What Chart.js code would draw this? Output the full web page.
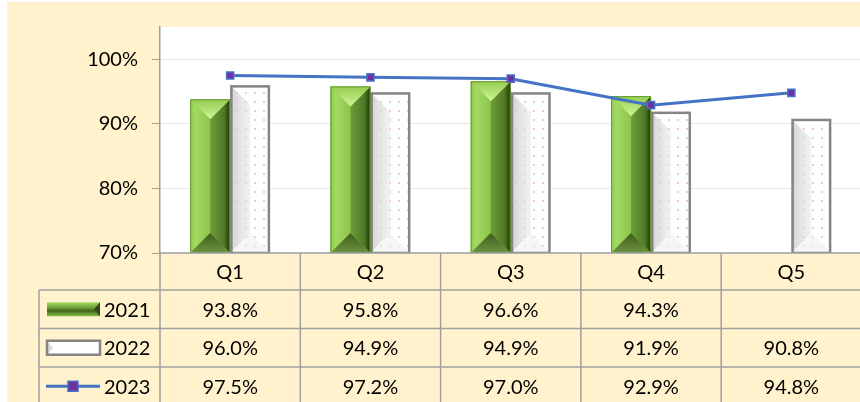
<!DOCTYPE html>
<html>
<head>
<meta charset="utf-8">
<script src="https://cdn.jsdelivr.net/npm/chart.js@4.4.0/dist/chart.umd.min.js"></script>
<style>
  html, body { margin: 0; padding: 0; background: #fff; overflow: hidden; }
  canvas { display: block; }
</style>
</head>
<body>
<canvas id="qChart" width="868" height="402"></canvas>
<script>
const categories = ['Q1', 'Q2', 'Q3', 'Q4', 'Q5'];
const seriesNames = ['2021', '2022', '2023'];
const values2021 = [93.8, 95.8, 96.6, 94.3, null];
const values2022 = [96.0, 94.9, 94.9, 91.9, 90.8];
const values2023 = [97.5, 97.2, 97.0, 92.9, 94.8];
const yTicks = [70, 80, 90, 100];

const FONT = 'Lato, "Open Sans", sans-serif';
const CREAM = '#FFF2CC';
const GRAY = '#A0A0A0';

// dotted pink fill for the 2022 bars
function dotPattern() {
  const c = document.createElement('canvas');
  c.width = 9; c.height = 9;
  const g = c.getContext('2d');
  g.fillStyle = '#ffffff';
  g.fillRect(0, 0, 9, 9);
  g.fillStyle = '#F0C4EE';
  g.fillRect(2, 2, 2, 2);
  return g.createPattern(c, 'repeat');
}
const dots = dotPattern();

function facet(c, pts, fill) {
  c.beginPath();
  c.moveTo(pts[0][0], pts[0][1]);
  for (let k = 1; k < pts.length; k++) c.lineTo(pts[k][0], pts[k][1]);
  c.closePath();
  c.fillStyle = fill;
  c.fill();
}

// bevel shading painted over the library's bar elements
const bevelPlugin = {
  id: 'bevel',
  afterDatasetDraw(chart, args) {
    const c = chart.ctx, a = chart.chartArea;
    const meta = args.meta;
    if (meta.type !== 'bar') return;
    const vals = chart.data.datasets[args.index].data;
    meta.data.forEach((el, i) => {
      if (vals[i] === null || vals[i] === undefined) return;
      const w = el.width, l = el.x - w / 2, r = el.x + w / 2, x = el.x, t = el.y;
      const b = Math.min(el.base, a.bottom);
      const d = w * 0.5;
      c.save();
      c.beginPath();
      c.rect(a.left, a.top, a.right - a.left, a.bottom - a.top);
      c.clip();
      if (args.index === 1) {
        let g = c.createLinearGradient(l, 0, x, 0);
        g.addColorStop(0, '#8CC84C'); g.addColorStop(0.25, '#A2DA62'); g.addColorStop(1, '#8CC44C');
        facet(c, [[l, t], [x, t + d], [x, b - d], [l, b]], g);
        g = c.createLinearGradient(x, 0, r, 0);
        g.addColorStop(0, '#6E9E3A'); g.addColorStop(0.7, '#4E7826'); g.addColorStop(1, '#1E300A');
        facet(c, [[r, t], [x, t + d], [x, b - d], [r, b]], g);
        g = c.createLinearGradient(0, t, 0, t + d);
        g.addColorStop(0, '#94CC4E'); g.addColorStop(1, '#CFF59A');
        facet(c, [[l, t], [r, t], [x, t + d]], g);
        g = c.createLinearGradient(0, b - d, 0, b);
        g.addColorStop(0, '#3F5C1C'); g.addColorStop(1, '#6E9440');
        facet(c, [[l, b], [r, b], [x, b - d]], g);
        c.strokeStyle = '#6A9A36'; c.lineWidth = 1;
        c.strokeRect(l + 0.5, t + 0.5, w - 1, b - t - 1);
      } else {
        c.fillStyle = dots;
        c.fillRect(l, t, w, b - t);
        const g = c.createLinearGradient(l, 0, x, 0);
        g.addColorStop(0, 'rgba(200,200,200,0.8)'); g.addColorStop(1, 'rgba(232,232,232,0.55)');
        facet(c, [[l, t], [x, t + d], [x, b - d], [l, b]], g);
        facet(c, [[l, b], [r, b], [x, b - d]], 'rgba(240,240,240,0.6)');
        c.strokeStyle = '#858585'; c.lineWidth = 2.5;
        c.strokeRect(l + 1.25, t + 1.25, w - 2.5, b - t - 1.25);
      }
      c.restore();
    });
  }
};

const backgroundPlugin = {
  id: 'bg',
  beforeDraw(chart) {
    const c = chart.ctx, a = chart.chartArea;
    c.save();
    c.fillStyle = '#ffffff';
    c.fillRect(0, 0, chart.width, chart.height);
    c.fillStyle = CREAM;
    c.fillRect(7, 2, chart.width - 7, chart.height - 2);
    c.fillStyle = '#ffffff';
    c.fillRect(a.left, a.top, a.right - a.left, a.bottom - a.top);
    c.restore();
  }
};

// data table under the plot, with legend keys in the first column
const tablePlugin = {
  id: 'dataTable',
  afterDraw(chart) {
    const c = chart.ctx, a = chart.chartArea, xs = chart.scales.x;
    const colW = (a.right - a.left) / categories.length;
    const keyLeft = 39;
    const rowTops = [a.bottom, 290, 328.5, 367, 405.5];
    const rows = [values2021, values2022, values2023];
    c.save();
    c.strokeStyle = GRAY;
    c.lineWidth = 1.5;
    c.beginPath();
    c.moveTo(a.left, a.bottom); c.lineTo(chart.width, a.bottom);
    for (let r = 1; r < 4; r++) {
      c.moveTo(keyLeft, rowTops[r]); c.lineTo(chart.width, rowTops[r]);
    }
    for (let i = 0; i <= categories.length; i++) {
      const x = a.left + i * colW;
      c.moveTo(x, a.bottom); c.lineTo(x, chart.height);
    }
    c.moveTo(keyLeft, rowTops[1]); c.lineTo(keyLeft, chart.height);
    c.stroke();

    c.fillStyle = '#000';
    c.font = '20px ' + FONT;
    c.textAlign = 'center';
    c.textBaseline = 'middle';
    categories.forEach((q, i) => {
      const x = xs.getPixelForValue(i);
      c.fillText(q, x, (rowTops[0] + rowTops[1]) / 2 + 1);
      rows.forEach((vals, r) => {
        if (vals[i] === null) return;
        c.fillText(vals[i].toFixed(1) + '%', x, (rowTops[r + 1] + rowTops[r + 2]) / 2 + 1);
      });
    });

    // legend keys
    c.textAlign = 'left';
    seriesNames.forEach((name, r) => {
      const cy = (rowTops[r + 1] + rowTops[r + 2]) / 2;
      const kl = 47, kr = 100;
      if (r === 0) {
        const g = c.createLinearGradient(0, cy - 7, 0, cy + 7);
        g.addColorStop(0, '#A6DC62'); g.addColorStop(0.4, '#6E9E3A');
        g.addColorStop(0.6, '#3F6419'); g.addColorStop(1, '#86BE45');
        c.fillStyle = g;
        c.fillRect(kl, cy - 7, kr - kl, 14);
        c.fillStyle = '#2F4A12';
        c.beginPath(); c.moveTo(kr, cy - 7); c.lineTo(kr - 6, cy); c.lineTo(kr, cy + 7); c.closePath(); c.fill();
      } else if (r === 1) {
        c.fillStyle = '#ffffff';
        c.fillRect(kl, cy - 7, kr - kl, 14);
        c.fillStyle = '#DDDDDD';
        c.beginPath(); c.moveTo(kl, cy - 7); c.lineTo(kl + 6, cy); c.lineTo(kl, cy + 7); c.closePath(); c.fill();
        c.strokeStyle = '#858585'; c.lineWidth = 2.5;
        c.strokeRect(kl, cy - 7, kr - kl, 14);
      } else {
        c.strokeStyle = '#4472C4'; c.lineWidth = 3;
        c.beginPath(); c.moveTo(kl - 1, cy); c.lineTo(kr, cy); c.stroke();
        c.fillStyle = '#7030A0';
        c.fillRect(68, cy - 5, 10, 10);
        c.strokeStyle = '#4472C4'; c.lineWidth = 1.5;
        c.strokeRect(68, cy - 5, 10, 10);
      }
      c.fillStyle = '#000';
      c.fillText(name, 104, cy + 1);
    });
    c.restore();
  }
};

const ctx = document.getElementById('qChart').getContext('2d');
const myChart = new Chart(ctx, {
  type: 'bar',
  data: {
    labels: categories,
    datasets: [
      {
        type: 'line',
        label: seriesNames[2],
        data: values2023,
        order: 0,
        borderColor: '#4472C4',
        borderWidth: 3,
        pointStyle: 'rect',
        pointRadius: 5,
        pointBackgroundColor: '#7030A0',
        pointBorderColor: '#4472C4',
        pointBorderWidth: 1.5,
        tension: 0,
        fill: false
      },
      {
        label: seriesNames[0],
        data: values2021,
        order: 1,
        backgroundColor: '#8DC63F',
        borderWidth: 0,
        barPercentage: 1,
        categoryPercentage: 0.57
      },
      {
        label: seriesNames[1],
        data: values2022,
        order: 1,
        backgroundColor: dots,
        borderWidth: 0,
        barPercentage: 1,
        categoryPercentage: 0.57
      }
    ]
  },
  options: {
    responsive: false,
    animation: false,
    layout: { padding: { left: 0, right: 0, top: 27, bottom: 149 } },
    plugins: {
      legend: { display: false },
      tooltip: { enabled: false }
    },
    scales: {
      x: {
        display: false,
        grid: { display: false }
      },
      y: {
        min: 70,
        max: 105,
        afterBuildTicks(scale) {
          scale.ticks = yTicks.map(v => ({ value: v }));
        },
        afterFit(scale) { scale.width = 160; },
        border: { display: true, color: GRAY, width: 1.5 },
        grid: { color: '#E8E8E8', lineWidth: 1, tickColor: GRAY, tickLength: 8 },
        ticks: {
          padding: 14,
          color: '#000',
          font: { family: FONT, size: 20 },
          callback: v => v + '%'
        }
      }
    }
  },
  plugins: [backgroundPlugin, bevelPlugin, tablePlugin]
});
</script>
</body>
</html>
